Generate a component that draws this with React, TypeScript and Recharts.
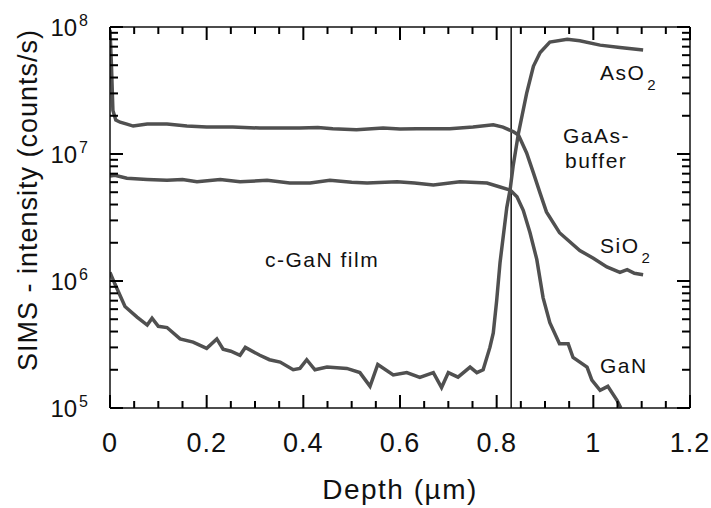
import React from "react";
import { Line, LineChart, ReferenceLine, XAxis, YAxis } from "recharts";

// SIMS depth profile of a c-GaN film on a GaAs buffer

const SIO2_DEPTH = [0, 0.003, 0.006, 0.012, 0.021, 0.035, 0.048, 0.077, 0.118, 0.159, 0.2, 0.254, 0.31, 0.366, 0.393, 0.43, 0.461, 0.51, 0.565, 0.6, 0.635, 0.703, 0.751, 0.793, 0.813, 0.834, 0.845, 0.862, 0.876, 0.89, 0.903, 0.93, 0.972, 1.0, 1.028, 1.055, 1.07, 1.085, 1.103];
const SIO2_VALUES = [9.5e7, 5e7, 2.2e7, 1.85e7, 1.78e7, 1.72e7, 1.66e7, 1.72e7, 1.72e7, 1.66e7, 1.63e7, 1.63e7, 1.6e7, 1.6e7, 1.6e7, 1.62e7, 1.58e7, 1.55e7, 1.6e7, 1.57e7, 1.58e7, 1.58e7, 1.63e7, 1.7e7, 1.63e7, 1.5e7, 1.41e7, 1.02e7, 7.1e6, 4.9e6, 3.5e6, 2.4e6, 1.74e6, 1.51e6, 1.29e6, 1.17e6, 1.23e6, 1.15e6, 1.12e6];

const GAN_DEPTH = [0, 0.01, 0.035, 0.077, 0.118, 0.15, 0.18, 0.228, 0.269, 0.325, 0.372, 0.414, 0.455, 0.5, 0.532, 0.594, 0.63, 0.669, 0.724, 0.78, 0.807, 0.828, 0.842, 0.855, 0.869, 0.883, 0.896, 0.91, 0.93, 0.948, 0.958, 0.987, 0.997, 1.014, 1.03, 1.049, 1.057];
const GAN_VALUES = [6.7e6, 6.8e6, 6.45e6, 6.3e6, 6.2e6, 6.3e6, 6.05e6, 6.3e6, 6.05e6, 6.2e6, 5.9e6, 5.9e6, 6.2e6, 6.0e6, 5.9e6, 6.05e6, 5.9e6, 5.7e6, 6.05e6, 5.9e6, 5.5e6, 5.2e6, 4.6e6, 3.6e6, 2.4e6, 1.48e6, 7.4e5, 4.7e5, 3.2e5, 3.2e5, 2.5e5, 2.1e5, 1.66e5, 1.38e5, 1.48e5, 1.15e5, 1e5];

const ASO2_DEPTH = [0, 0.01, 0.031, 0.056, 0.077, 0.087, 0.1, 0.118, 0.145, 0.172, 0.2, 0.221, 0.234, 0.25, 0.269, 0.28, 0.31, 0.33, 0.352, 0.379, 0.393, 0.407, 0.424, 0.449, 0.49, 0.517, 0.538, 0.554, 0.586, 0.614, 0.641, 0.669, 0.686, 0.7, 0.72, 0.745, 0.759, 0.772, 0.786, 0.793, 0.8, 0.807, 0.821, 0.828, 0.834, 0.845, 0.862, 0.876, 0.89, 0.91, 0.946, 0.972, 1.014, 1.055, 1.103];
const ASO2_VALUES = [1.17e6, 9.5e5, 6.3e5, 5.2e5, 4.5e5, 5.1e5, 4.4e5, 4.3e5, 3.5e5, 3.3e5, 2.95e5, 3.5e5, 2.9e5, 2.8e5, 2.6e5, 3.0e5, 2.6e5, 2.4e5, 2.3e5, 2.0e5, 2.05e5, 2.4e5, 2.0e5, 2.1e5, 2.05e5, 1.9e5, 1.48e5, 2.2e5, 1.82e5, 1.9e5, 1.74e5, 1.9e5, 1.45e5, 1.9e5, 1.75e5, 2.1e5, 1.9e5, 2.0e5, 3.0e5, 3.9e5, 7e5, 1.4e6, 3.8e6, 5.3e6, 8e6, 1.45e7, 3e7, 4.9e7, 6.3e7, 7.6e7, 8e7, 7.8e7, 7.2e7, 6.9e7, 6.6e7];

const INTERFACE_DEPTH = 0.83;

const X_TICKS = [0, 0.05, 0.1, 0.15, 0.2, 0.25, 0.3, 0.35, 0.4, 0.45, 0.5, 0.55, 0.6, 0.65, 0.7, 0.75, 0.8, 0.85, 0.9, 0.95, 1, 1.05, 1.1, 1.15, 1.2];
const X_LABELS = ["0", "0.2", "0.4", "0.6", "0.8", "1", "1.2"];
const Y_DECADES = [1e5, 1e6, 1e7, 1e8];
const Y_EXPONENTS = ["5", "6", "7", "8"];
const Y_MINOR = [2, 3, 4, 5, 6, 7, 8, 9];

const Y_TICKS: number[] = [];
Y_DECADES.forEach((d, i) => {
  Y_TICKS.push(d);
  if (i < Y_DECADES.length - 1) Y_MINOR.forEach((m) => Y_TICKS.push(d * m));
});

const toPoints = (xs: number[], vs: number[]) => xs.map((x, i) => ({ x, v: vs[i] }));
const sio2 = toPoints(SIO2_DEPTH, SIO2_VALUES);
const gan = toPoints(GAN_DEPTH, GAN_VALUES);
const aso2 = toPoints(ASO2_DEPTH, ASO2_VALUES);

const W = 711;
const H = 508;
const LEFT = 110;
const RIGHT = 690;
const TOP = 27;
const BOTTOM = 408;
const X_MIN = 0;
const X_MAX = 1.2;
const Y_MIN = 1e5;
const Y_MAX = 1e8;
const FONT = "'Liberation Sans', Arial, sans-serif";
const INK = "#111";
const CURVE = "#505050";

const isMajorX = (v: number) => Math.abs(v * 5 - Math.round(v * 5)) < 1e-6;
const xLabel = (v: number) => X_LABELS[Math.round(v * 5)];
const decadeIndex = (v: number) => Y_DECADES.findIndex((d) => Math.abs(v / d - 1) < 1e-6);
// empty formatter: Recharts then sees no overlap and keeps every tick
const noText = () => "";

// inward ticks are drawn by the tick renderers, at the positions the axis scale gives them
const renderBottomTick = (p: any) => {
  const major = isMajorX(p.payload.value);
  return (
    <g>
      <line x1={p.x} x2={p.x} y1={BOTTOM} y2={BOTTOM - (major ? 13 : 7)} stroke="#000" strokeWidth={2} />
      {major ? (
        <text x={p.x} y={BOTTOM + 44} textAnchor="middle" fontSize={27} letterSpacing={1} fill={INK} fontFamily={FONT}>
          {xLabel(p.payload.value)}
        </text>
      ) : null}
    </g>
  );
};

const renderTopTick = (p: any) => {
  const major = isMajorX(p.payload.value);
  return <line x1={p.x} x2={p.x} y1={TOP} y2={TOP + (major ? 13 : 7)} stroke="#000" strokeWidth={2} />;
};

const renderLeftTick = (p: any) => {
  const idx = decadeIndex(p.payload.value);
  return (
    <g>
      <line x1={LEFT} x2={LEFT + (idx >= 0 ? 13 : 8)} y1={p.y} y2={p.y} stroke="#000" strokeWidth={2} />
      {idx >= 0 ? (
        <text x={LEFT - 22} y={p.y + 9} textAnchor="end" fontSize={24} fill={INK} fontFamily={FONT}>
          10
          <tspan dx={2} dy={-10} fontSize={16}>
            {Y_EXPONENTS[idx]}
          </tspan>
        </text>
      ) : null}
    </g>
  );
};

const renderRightTick = (p: any) => {
  const major = decadeIndex(p.payload.value) >= 0;
  return <line x1={RIGHT} x2={RIGHT - (major ? 13 : 8)} y1={p.y} y2={p.y} stroke="#000" strokeWidth={2} />;
};

const labelStyle = { fontSize: 21, letterSpacing: 1.5, fill: INK, fontFamily: FONT };
const frame = { stroke: INK, strokeWidth: 1.5 };
const hiddenTickLine = { strokeOpacity: 0 };

export default function App() {
  return (
    <div style={{ position: "fixed", left: 0, top: 0, width: W, height: H, background: "#fff" }}>
      <LineChart width={W} height={H} margin={{ top: 0, right: 0, bottom: 0, left: 0 }}>
        <XAxis
          dataKey="x"
          type="number"
          domain={[X_MIN, X_MAX]}
          ticks={X_TICKS}
          tickFormatter={noText}
          minTickGap={0}
          height={H - BOTTOM}
          allowDataOverflow
          axisLine={frame}
          tickLine={hiddenTickLine}
          tick={renderBottomTick}
        />
        <XAxis
          xAxisId="top"
          orientation="top"
          dataKey="x"
          type="number"
          domain={[X_MIN, X_MAX]}
          ticks={X_TICKS}
          tickFormatter={noText}
          minTickGap={0}
          height={TOP}
          allowDataOverflow
          axisLine={frame}
          tickLine={hiddenTickLine}
          tick={renderTopTick}
        />
        <YAxis
          scale="log"
          type="number"
          domain={[Y_MIN, Y_MAX]}
          ticks={Y_TICKS}
          tickFormatter={noText}
          minTickGap={0}
          width={LEFT}
          allowDataOverflow
          axisLine={frame}
          tickLine={hiddenTickLine}
          tick={renderLeftTick}
        />
        <YAxis
          yAxisId="right"
          orientation="right"
          scale="log"
          type="number"
          domain={[Y_MIN, Y_MAX]}
          ticks={Y_TICKS}
          tickFormatter={noText}
          minTickGap={0}
          width={W - RIGHT}
          allowDataOverflow
          axisLine={frame}
          tickLine={hiddenTickLine}
          tick={renderRightTick}
        />
        <ReferenceLine x={INTERFACE_DEPTH} {...frame} />
        <Line data={sio2} dataKey="v" name="SiO2" type="linear" stroke={CURVE} strokeWidth={3.5} dot={false} isAnimationActive={false} />
        <Line data={gan} dataKey="v" name="GaN" type="linear" stroke={CURVE} strokeWidth={3.5} dot={false} isAnimationActive={false} />
        <Line data={aso2} dataKey="v" name="AsO2" type="linear" stroke={CURVE} strokeWidth={3.5} dot={false} isAnimationActive={false} />
      </LineChart>

      <svg width={W} height={H} style={{ position: "absolute", left: 0, top: 0, pointerEvents: "none" }}>
        <text x={265} y={267} {...labelStyle}>c-GaN film</text>
        <text x={600} y={80} {...labelStyle}>
          AsO<tspan dx={2} dy={10} fontSize={15}>2</tspan>
        </text>
        <text x={563} y={143} {...labelStyle}>GaAs-</text>
        <text x={565} y={168} {...labelStyle}>buffer</text>
        <text x={600} y={253} {...labelStyle}>
          SiO<tspan dx={2} dy={10} fontSize={15}>2</tspan>
        </text>
        <text x={600} y={373} {...labelStyle}>GaN</text>
        <text x={400} y={499} textAnchor="middle" fontSize={28} letterSpacing={1.5} fill={INK} fontFamily={FONT}>
          Depth (µm)
        </text>
        <text
          x={37}
          y={200}
          transform="rotate(-90, 37, 200)"
          textAnchor="middle"
          fontSize={27}
          letterSpacing={1}
          fill={INK}
          fontFamily={FONT}
        >
          SIMS - intensity (counts/s)
        </text>
      </svg>
    </div>
  );
}
